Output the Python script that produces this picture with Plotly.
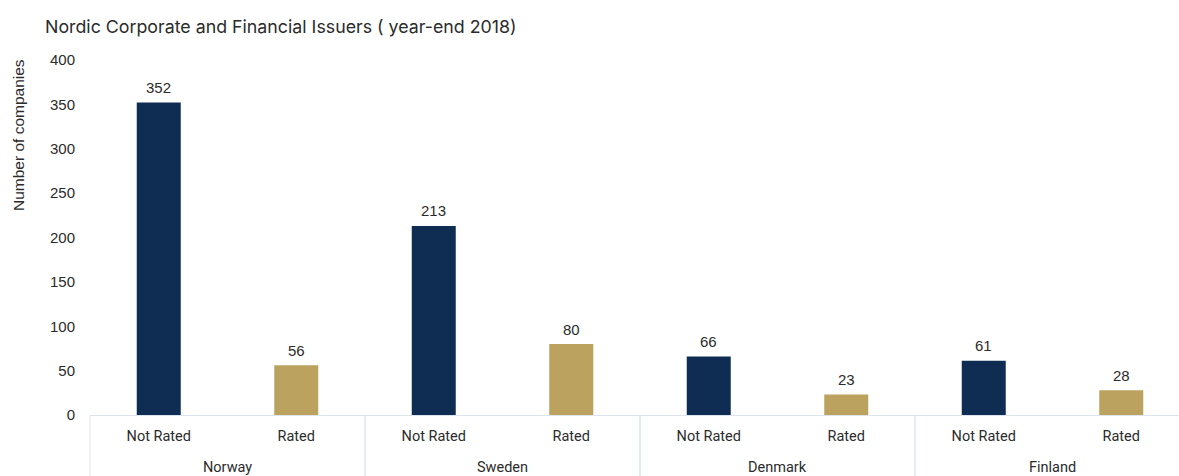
import plotly.graph_objects as go

countries = ["Norway", "Norway", "Sweden", "Sweden", "Denmark", "Denmark", "Finland", "Finland"]
status = ["Not Rated", "Rated"] * 4
companies = [352, 56, 213, 80, 66, 23, 61, 28]
y_ticks = [0, 50, 100, 150, 200, 250, 300, 350, 400]

navy = "#0f2c52"
gold = "#bba25e"
text_color = "#2b2b2b"
rule_color = "#dde4ee"
bar_colors = [navy if s == "Not Rated" else gold for s in status]

title_font = "Inter, Liberation Sans, Arial, sans-serif"
label_font = "Roboto, Liberation Sans, Arial, sans-serif"
num_font = "Liberation Sans, Arial, sans-serif"

W, H = 1179, 476
M_L, M_R, M_T, M_B = 90, 0, 60, 61
plot_h = H - M_T - M_B

positions = list(range(len(companies)))
x_range = [-0.5, 7.42]

# group spans (first and last position of each country)
groups = []
for i, c in enumerate(countries):
    if groups and groups[-1][0] == c:
        groups[-1][2] = i
    else:
        groups.append([c, i, i])

fig = go.Figure(
    go.Bar(
        x=positions,
        y=companies,
        marker=dict(color=bar_colors, line=dict(width=0)),
        width=0.32,
        hovertext=[f"{c} – {s}" for c, s in zip(countries, status)],
    )
)

# value labels above bars
for xi, v in zip(positions, companies):
    fig.add_annotation(
        x=xi, y=v, xref="x", yref="y",
        text=str(v), showarrow=False,
        yanchor="middle", yshift=15,
        font=dict(size=15, color=text_color, family=num_font),
    )

# country labels under the status labels
for name, a, b in groups:
    fig.add_annotation(
        x=(a + b) / 2, y=0, xref="x", yref="paper",
        text=name, showarrow=False,
        yanchor="middle", yshift=-52,
        font=dict(size=14.5, color=text_color, family=label_font),
    )

# vertical dividers between country groups, extending below the axis
def to_paper(xv):
    return (xv - x_range[0]) / (x_range[1] - x_range[0])

for name, a, b in groups:
    for edge in (a - 0.5, b + 0.5):
        px = to_paper(edge)
        if 0 <= px <= 1:
            fig.add_shape(
                type="line", xref="paper", yref="paper",
                x0=px, x1=px, y0=0, y1=-M_B / plot_h - 0.01,
                line=dict(color=rule_color, width=1),
            )

# y axis title placed near the top of the axis
fig.add_annotation(
    x=0, xref="paper", xshift=-(M_L - 18),
    y=(H - M_B - 135) / plot_h, yref="paper",
    text="Number of companies", textangle=-90, showarrow=False,
    xanchor="center", yanchor="middle",
    font=dict(size=15.5, color=text_color, family=num_font),
)

fig.update_layout(
    width=W,
    height=H,
    margin=dict(l=M_L, r=M_R, t=M_T, b=M_B),
    paper_bgcolor="white",
    plot_bgcolor="white",
    showlegend=False,
    font=dict(family=label_font, size=14, color=text_color),
    title=dict(
        text="Nordic Corporate and Financial Issuers ( year-end 2018)",
        x=45 / W,
        xref="container",
        xanchor="left",
        y=1 - 27 / H,
        yref="container",
        yanchor="middle",
        font=dict(size=17.8, color=text_color, family=title_font),
    ),
)

fig.update_xaxes(
    range=x_range,
    tickvals=positions,
    ticktext=status,
    showline=True,
    linecolor=rule_color,
    linewidth=1,
    showgrid=False,
    zeroline=False,
    ticklabelstandoff=8,
    tickfont=dict(size=14.5, color=text_color, family=label_font),
)

fig.update_yaxes(
    range=[0, 400],
    tickvals=y_ticks,
    showgrid=False,
    zeroline=False,
    showline=False,
    ticklabelstandoff=14,
    tickfont=dict(size=15, color=text_color, family=num_font),
)

fig.write_html("out.html")
